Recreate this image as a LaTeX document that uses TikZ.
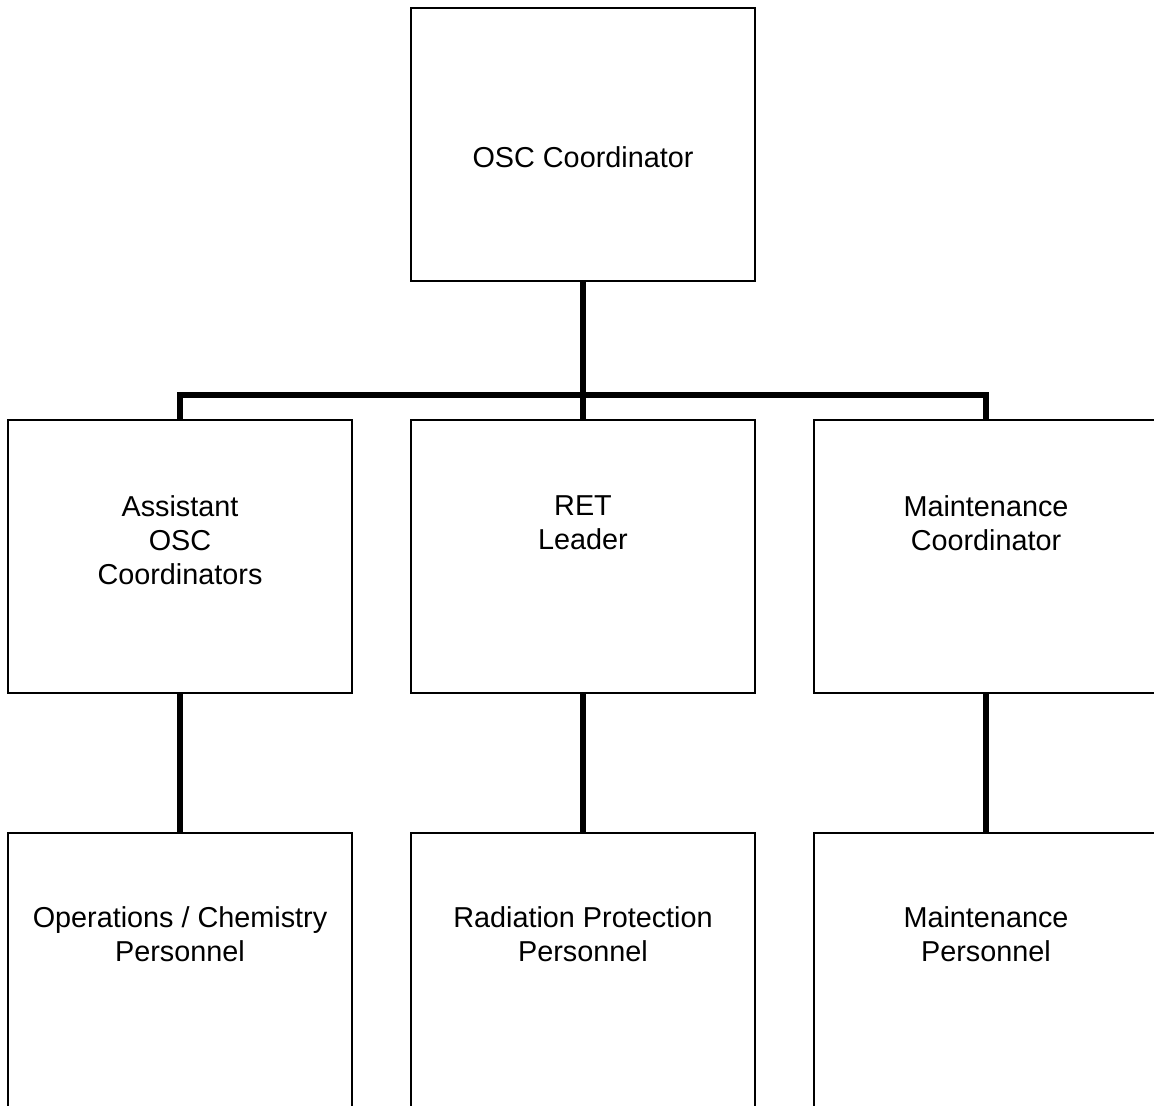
\documentclass[tikz,border=0pt]{standalone}
\usepackage{fontspec}
\setmainfont{Liberation Sans}
\usetikzlibrary{calc}
\usetikzlibrary{positioning}
\tikzset{
  box/.style={draw, line width=0.9pt, inner sep=0pt, outer sep=0pt,
    minimum width=172pt, minimum height=136.5pt},
  lowbox/.style={box, minimum height=140pt},
  lbl/.style={align=center, inner sep=0pt, font=\fontsize{14.4}{17}\selectfont},
  conn/.style={line width=2.8pt}
}

\begin{document}
\begin{tikzpicture}[x=0.5pt, y=-0.5pt]
                \useasboundingbox (0,0) rectangle (1154,1105);
                \clip (0,0) rectangle (1154,1105);
                \node[box] (osc) at (583,144.5) {};
                \node[box] (asst) at (180,556.5) {};
                \node[box] (ret) at (583,556.5) {};
                \node[box] (maint) at (986,556.5) {};
                \node[lowbox] (ops) at (180,973) {};
                \node[lowbox] (rp) at (583,973) {};
                \node[lowbox] (mp) at (986,973) {};
                \node[lbl] (osct) at (583,157) {OSC Coordinator};
                \node[lbl] (asstt) at (180,540) {Assistant\\OSC\\Coordinators};
                \node[lbl] (rett) at (583,523) {RET\\Leader};
                \node[lbl] (maintt) at (986,523) {Maintenance\\Coordinator};
                \node[lbl] (opst) at (180,934) {Operations / Chemistry\\Personnel};
                \node[lbl] (rpt) at (583,934) {Radiation Protection\\Personnel};
                \node[lbl] (mpt) at (986,934) {Maintenance\\Personnel};
                \coordinate (bus) at (583,395);
                \draw[conn] (osc.south) -- (bus) -- (ret.north)
                      (asst.north) |- (bus) -| (maint.north);
                \draw[conn] (asst.south) -- (ops.north)
                      (ret.south) -- (rp.north)
                      (maint.south) -- (mp.north);
            \end{tikzpicture}
\end{document}
